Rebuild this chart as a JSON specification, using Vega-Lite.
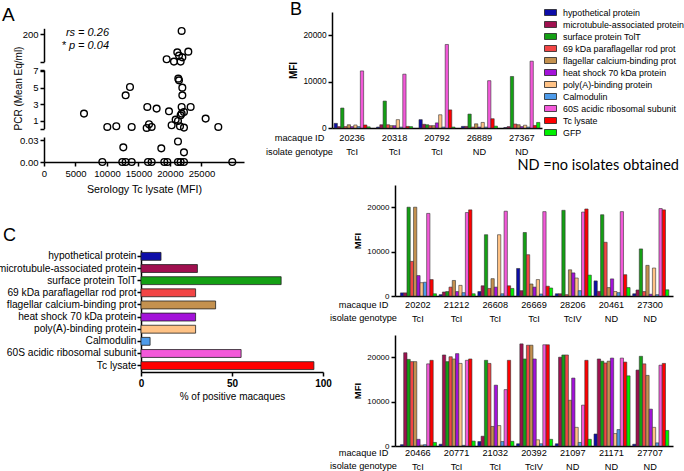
{
"$schema": "https://vega.github.io/schema/vega-lite/v6.json",
"padding": {"left": -3, "top": 1, "right": 0, "bottom": 0},
"config": {
  "font": "Liberation Sans",
  "view": {"stroke": null},
  "axis": {"domainColor": "#000", "tickColor": "#000", "labelColor": "#000", "titleColor": "#000", "domainWidth": 1.5, "tickWidth": 1.5, "grid": false, "tickSize": 4, "labelOverlap": false, "labelFlush": false},
  "title": {"color": "#000", "fontWeight": "normal", "baseline": "alphabetic"}
},
"resolve": {"scale": {"color": "independent"}, "legend": {"color": "independent"}},
"datasets": {
  "scatter": [
    {"mfi": 21850, "pcr": 223}, {"mfi": 21160, "pcr": 77}, {"mfi": 22910, "pcr": 82}, {"mfi": 21430, "pcr": 55},
    {"mfi": 21960, "pcr": 43}, {"mfi": 19470, "pcr": 30}, {"mfi": 20630, "pcr": 14}, {"mfi": 21690, "pcr": 14},
    {"mfi": 6350, "pcr": 1.88}, {"mfi": 10050, "pcr": 0.28}, {"mfi": 11480, "pcr": 0.36}, {"mfi": 12960, "pcr": 4.08},
    {"mfi": 13650, "pcr": 5.08}, {"mfi": 13920, "pcr": 0.28}, {"mfi": 16400, "pcr": 2.68}, {"mfi": 17880, "pcr": 2.48},
    {"mfi": 16670, "pcr": 0.6}, {"mfi": 16300, "pcr": 0.16}, {"mfi": 17090, "pcr": 0.28}, {"mfi": 19840, "pcr": 2.16},
    {"mfi": 20260, "pcr": 0.48}, {"mfi": 20900, "pcr": 1.16}, {"mfi": 21270, "pcr": 1.0}, {"mfi": 21320, "pcr": 6.08},
    {"mfi": 21430, "pcr": 5.88}, {"mfi": 21960, "pcr": 5.0}, {"mfi": 21960, "pcr": 4.08}, {"mfi": 21850, "pcr": 2.68},
    {"mfi": 23280, "pcr": 2.68}, {"mfi": 21690, "pcr": 1.68}, {"mfi": 21850, "pcr": 1.88}, {"mfi": 22220, "pcr": 2.08},
    {"mfi": 21590, "pcr": 0.36}, {"mfi": 22220, "pcr": 0.2}, {"mfi": 25660, "pcr": 1.28}, {"mfi": 27670, "pcr": 0.28},
    {"mfi": 12590, "pcr": 0.02}, {"mfi": 18620, "pcr": 0.0186}, {"mfi": 21270, "pcr": 0.028}, {"mfi": 22220, "pcr": 0.0132},
    {"mfi": 9260, "pcr": 0}, {"mfi": 12430, "pcr": 0}, {"mfi": 12960, "pcr": 0}, {"mfi": 13920, "pcr": 0},
    {"mfi": 16510, "pcr": 0}, {"mfi": 17090, "pcr": 0}, {"mfi": 19100, "pcr": 0}, {"mfi": 19580, "pcr": 0},
    {"mfi": 21270, "pcr": 0}, {"mfi": 21690, "pcr": 0}, {"mfi": 22220, "pcr": 0}, {"mfi": 29890, "pcr": 0}
  ],
  "pct": [
    {"antigen": "hypothetical protein", "pct": 11},
    {"antigen": "microtubule-associated protein", "pct": 31},
    {"antigen": "surface protein TolT", "pct": 77},
    {"antigen": "69 kDa paraflagellar rod prot", "pct": 30},
    {"antigen": "flagellar calcium-binding prot", "pct": 41},
    {"antigen": "heat shock 70 kDa protein", "pct": 30},
    {"antigen": "poly(A)-binding protein", "pct": 30},
    {"antigen": "Calmodulin", "pct": 5},
    {"antigen": "60S acidic ribosomal subunit", "pct": 55},
    {"antigen": "Tc lysate", "pct": 95}
  ],
  "b1": [
    {"macaque": "20236", "genotype": "TcI", "antigen": "hypothetical protein", "mfi": 1000},
    {"macaque": "20236", "genotype": "TcI", "antigen": "microtubule-associated protein", "mfi": 300},
    {"macaque": "20236", "genotype": "TcI", "antigen": "surface protein TolT", "mfi": 4300},
    {"macaque": "20236", "genotype": "TcI", "antigen": "69 kDa paraflagellar rod prot", "mfi": 300},
    {"macaque": "20236", "genotype": "TcI", "antigen": "flagellar calcium-binding prot", "mfi": 700},
    {"macaque": "20236", "genotype": "TcI", "antigen": "heat shock 70 kDa protein", "mfi": 300},
    {"macaque": "20236", "genotype": "TcI", "antigen": "poly(A)-binding protein", "mfi": 650},
    {"macaque": "20236", "genotype": "TcI", "antigen": "Calmodulin", "mfi": 300},
    {"macaque": "20236", "genotype": "TcI", "antigen": "60S acidic ribosomal subunit", "mfi": 12300},
    {"macaque": "20236", "genotype": "TcI", "antigen": "Tc lysate", "mfi": 650},
    {"macaque": "20236", "genotype": "TcI", "antigen": "GFP", "mfi": 250},
    {"macaque": "20318", "genotype": "TcI", "antigen": "hypothetical protein", "mfi": 200},
    {"macaque": "20318", "genotype": "TcI", "antigen": "microtubule-associated protein", "mfi": 700},
    {"macaque": "20318", "genotype": "TcI", "antigen": "surface protein TolT", "mfi": 5800},
    {"macaque": "20318", "genotype": "TcI", "antigen": "69 kDa paraflagellar rod prot", "mfi": 700},
    {"macaque": "20318", "genotype": "TcI", "antigen": "flagellar calcium-binding prot", "mfi": 500},
    {"macaque": "20318", "genotype": "TcI", "antigen": "heat shock 70 kDa protein", "mfi": 500},
    {"macaque": "20318", "genotype": "TcI", "antigen": "poly(A)-binding protein", "mfi": 1800},
    {"macaque": "20318", "genotype": "TcI", "antigen": "Calmodulin", "mfi": 200},
    {"macaque": "20318", "genotype": "TcI", "antigen": "60S acidic ribosomal subunit", "mfi": 11600},
    {"macaque": "20318", "genotype": "TcI", "antigen": "Tc lysate", "mfi": 350},
    {"macaque": "20318", "genotype": "TcI", "antigen": "GFP", "mfi": 300},
    {"macaque": "20792", "genotype": "TcI", "antigen": "hypothetical protein", "mfi": 1800},
    {"macaque": "20792", "genotype": "TcI", "antigen": "microtubule-associated protein", "mfi": 800},
    {"macaque": "20792", "genotype": "TcI", "antigen": "surface protein TolT", "mfi": 700},
    {"macaque": "20792", "genotype": "TcI", "antigen": "69 kDa paraflagellar rod prot", "mfi": 500},
    {"macaque": "20792", "genotype": "TcI", "antigen": "flagellar calcium-binding prot", "mfi": 500},
    {"macaque": "20792", "genotype": "TcI", "antigen": "heat shock 70 kDa protein", "mfi": 1100},
    {"macaque": "20792", "genotype": "TcI", "antigen": "poly(A)-binding protein", "mfi": 2850},
    {"macaque": "20792", "genotype": "TcI", "antigen": "Calmodulin", "mfi": 200},
    {"macaque": "20792", "genotype": "TcI", "antigen": "60S acidic ribosomal subunit", "mfi": 18000},
    {"macaque": "20792", "genotype": "TcI", "antigen": "Tc lysate", "mfi": 3900},
    {"macaque": "20792", "genotype": "TcI", "antigen": "GFP", "mfi": 200},
    {"macaque": "26889", "genotype": "ND", "antigen": "hypothetical protein", "mfi": 350},
    {"macaque": "26889", "genotype": "ND", "antigen": "microtubule-associated protein", "mfi": 350},
    {"macaque": "26889", "genotype": "ND", "antigen": "surface protein TolT", "mfi": 3000},
    {"macaque": "26889", "genotype": "ND", "antigen": "69 kDa paraflagellar rod prot", "mfi": 200},
    {"macaque": "26889", "genotype": "ND", "antigen": "flagellar calcium-binding prot", "mfi": 900},
    {"macaque": "26889", "genotype": "ND", "antigen": "heat shock 70 kDa protein", "mfi": 200},
    {"macaque": "26889", "genotype": "ND", "antigen": "poly(A)-binding protein", "mfi": 1200},
    {"macaque": "26889", "genotype": "ND", "antigen": "Calmodulin", "mfi": 200},
    {"macaque": "26889", "genotype": "ND", "antigen": "60S acidic ribosomal subunit", "mfi": 10200},
    {"macaque": "26889", "genotype": "ND", "antigen": "Tc lysate", "mfi": 2000},
    {"macaque": "26889", "genotype": "ND", "antigen": "GFP", "mfi": 400},
    {"macaque": "27367", "genotype": "ND", "antigen": "hypothetical protein", "mfi": 100},
    {"macaque": "27367", "genotype": "ND", "antigen": "microtubule-associated protein", "mfi": 300},
    {"macaque": "27367", "genotype": "ND", "antigen": "surface protein TolT", "mfi": 11100},
    {"macaque": "27367", "genotype": "ND", "antigen": "69 kDa paraflagellar rod prot", "mfi": 850},
    {"macaque": "27367", "genotype": "ND", "antigen": "flagellar calcium-binding prot", "mfi": 700},
    {"macaque": "27367", "genotype": "ND", "antigen": "heat shock 70 kDa protein", "mfi": 300},
    {"macaque": "27367", "genotype": "ND", "antigen": "poly(A)-binding protein", "mfi": 600},
    {"macaque": "27367", "genotype": "ND", "antigen": "Calmodulin", "mfi": 200},
    {"macaque": "27367", "genotype": "ND", "antigen": "60S acidic ribosomal subunit", "mfi": 14400},
    {"macaque": "27367", "genotype": "ND", "antigen": "Tc lysate", "mfi": 550},
    {"macaque": "27367", "genotype": "ND", "antigen": "GFP", "mfi": 1200}
  ],
  "b2": [
    {"macaque": "20202", "genotype": "TcI", "antigen": "hypothetical protein", "mfi": 700},
    {"macaque": "20202", "genotype": "TcI", "antigen": "microtubule-associated protein", "mfi": 700},
    {"macaque": "20202", "genotype": "TcI", "antigen": "surface protein TolT", "mfi": 20000},
    {"macaque": "20202", "genotype": "TcI", "antigen": "69 kDa paraflagellar rod prot", "mfi": 7800},
    {"macaque": "20202", "genotype": "TcI", "antigen": "flagellar calcium-binding prot", "mfi": 20000},
    {"macaque": "20202", "genotype": "TcI", "antigen": "heat shock 70 kDa protein", "mfi": 4600},
    {"macaque": "20202", "genotype": "TcI", "antigen": "poly(A)-binding protein", "mfi": 3000},
    {"macaque": "20202", "genotype": "TcI", "antigen": "Calmodulin", "mfi": 3100},
    {"macaque": "20202", "genotype": "TcI", "antigen": "60S acidic ribosomal subunit", "mfi": 18600},
    {"macaque": "20202", "genotype": "TcI", "antigen": "Tc lysate", "mfi": 3700},
    {"macaque": "20202", "genotype": "TcI", "antigen": "GFP", "mfi": 500},
    {"macaque": "21212", "genotype": "TcI", "antigen": "hypothetical protein", "mfi": 300},
    {"macaque": "21212", "genotype": "TcI", "antigen": "microtubule-associated protein", "mfi": 900},
    {"macaque": "21212", "genotype": "TcI", "antigen": "surface protein TolT", "mfi": 1000},
    {"macaque": "21212", "genotype": "TcI", "antigen": "69 kDa paraflagellar rod prot", "mfi": 2000},
    {"macaque": "21212", "genotype": "TcI", "antigen": "flagellar calcium-binding prot", "mfi": 3500},
    {"macaque": "21212", "genotype": "TcI", "antigen": "heat shock 70 kDa protein", "mfi": 1000},
    {"macaque": "21212", "genotype": "TcI", "antigen": "poly(A)-binding protein", "mfi": 2400},
    {"macaque": "21212", "genotype": "TcI", "antigen": "Calmodulin", "mfi": 750},
    {"macaque": "21212", "genotype": "TcI", "antigen": "60S acidic ribosomal subunit", "mfi": 18800},
    {"macaque": "21212", "genotype": "TcI", "antigen": "Tc lysate", "mfi": 19400},
    {"macaque": "21212", "genotype": "TcI", "antigen": "GFP", "mfi": 500},
    {"macaque": "26608", "genotype": "TcI", "antigen": "hypothetical protein", "mfi": 1000},
    {"macaque": "26608", "genotype": "TcI", "antigen": "microtubule-associated protein", "mfi": 2300},
    {"macaque": "26608", "genotype": "TcI", "antigen": "surface protein TolT", "mfi": 13800},
    {"macaque": "26608", "genotype": "TcI", "antigen": "69 kDa paraflagellar rod prot", "mfi": 1700},
    {"macaque": "26608", "genotype": "TcI", "antigen": "flagellar calcium-binding prot", "mfi": 3900},
    {"macaque": "26608", "genotype": "TcI", "antigen": "heat shock 70 kDa protein", "mfi": 2000},
    {"macaque": "26608", "genotype": "TcI", "antigen": "poly(A)-binding protein", "mfi": 13800},
    {"macaque": "26608", "genotype": "TcI", "antigen": "Calmodulin", "mfi": 500},
    {"macaque": "26608", "genotype": "TcI", "antigen": "60S acidic ribosomal subunit", "mfi": 19100},
    {"macaque": "26608", "genotype": "TcI", "antigen": "Tc lysate", "mfi": 2300},
    {"macaque": "26608", "genotype": "TcI", "antigen": "GFP", "mfi": 1700},
    {"macaque": "26669", "genotype": "TcI", "antigen": "hypothetical protein", "mfi": 6200},
    {"macaque": "26669", "genotype": "TcI", "antigen": "microtubule-associated protein", "mfi": 1200},
    {"macaque": "26669", "genotype": "TcI", "antigen": "surface protein TolT", "mfi": 14300},
    {"macaque": "26669", "genotype": "TcI", "antigen": "69 kDa paraflagellar rod prot", "mfi": 9300},
    {"macaque": "26669", "genotype": "TcI", "antigen": "flagellar calcium-binding prot", "mfi": 2700},
    {"macaque": "26669", "genotype": "TcI", "antigen": "heat shock 70 kDa protein", "mfi": 2000},
    {"macaque": "26669", "genotype": "TcI", "antigen": "poly(A)-binding protein", "mfi": 3700},
    {"macaque": "26669", "genotype": "TcI", "antigen": "Calmodulin", "mfi": 450},
    {"macaque": "26669", "genotype": "TcI", "antigen": "60S acidic ribosomal subunit", "mfi": 19000},
    {"macaque": "26669", "genotype": "TcI", "antigen": "Tc lysate", "mfi": 2200},
    {"macaque": "26669", "genotype": "TcI", "antigen": "GFP", "mfi": 1800},
    {"macaque": "28206", "genotype": "TcIV", "antigen": "hypothetical protein", "mfi": 500},
    {"macaque": "28206", "genotype": "TcIV", "antigen": "microtubule-associated protein", "mfi": 500},
    {"macaque": "28206", "genotype": "TcIV", "antigen": "surface protein TolT", "mfi": 19300},
    {"macaque": "28206", "genotype": "TcIV", "antigen": "69 kDa paraflagellar rod prot", "mfi": 300},
    {"macaque": "28206", "genotype": "TcIV", "antigen": "flagellar calcium-binding prot", "mfi": 5900},
    {"macaque": "28206", "genotype": "TcIV", "antigen": "heat shock 70 kDa protein", "mfi": 5200},
    {"macaque": "28206", "genotype": "TcIV", "antigen": "poly(A)-binding protein", "mfi": 4050},
    {"macaque": "28206", "genotype": "TcIV", "antigen": "Calmodulin", "mfi": 1200},
    {"macaque": "28206", "genotype": "TcIV", "antigen": "60S acidic ribosomal subunit", "mfi": 18900},
    {"macaque": "28206", "genotype": "TcIV", "antigen": "Tc lysate", "mfi": 19600},
    {"macaque": "28206", "genotype": "TcIV", "antigen": "GFP", "mfi": 4700},
    {"macaque": "20461", "genotype": "ND", "antigen": "hypothetical protein", "mfi": 3400},
    {"macaque": "20461", "genotype": "ND", "antigen": "microtubule-associated protein", "mfi": 1050},
    {"macaque": "20461", "genotype": "ND", "antigen": "surface protein TolT", "mfi": 18300},
    {"macaque": "20461", "genotype": "ND", "antigen": "69 kDa paraflagellar rod prot", "mfi": 12100},
    {"macaque": "20461", "genotype": "ND", "antigen": "flagellar calcium-binding prot", "mfi": 1900},
    {"macaque": "20461", "genotype": "ND", "antigen": "heat shock 70 kDa protein", "mfi": 3850},
    {"macaque": "20461", "genotype": "ND", "antigen": "poly(A)-binding protein", "mfi": 1000},
    {"macaque": "20461", "genotype": "ND", "antigen": "Calmodulin", "mfi": 750},
    {"macaque": "20461", "genotype": "ND", "antigen": "60S acidic ribosomal subunit", "mfi": 19000},
    {"macaque": "20461", "genotype": "ND", "antigen": "Tc lysate", "mfi": 4800},
    {"macaque": "20461", "genotype": "ND", "antigen": "GFP", "mfi": 1900},
    {"macaque": "27300", "genotype": "ND", "antigen": "hypothetical protein", "mfi": 500},
    {"macaque": "27300", "genotype": "ND", "antigen": "microtubule-associated protein", "mfi": 1350},
    {"macaque": "27300", "genotype": "ND", "antigen": "surface protein TolT", "mfi": 10600},
    {"macaque": "27300", "genotype": "ND", "antigen": "69 kDa paraflagellar rod prot", "mfi": 1000},
    {"macaque": "27300", "genotype": "ND", "antigen": "flagellar calcium-binding prot", "mfi": 6900},
    {"macaque": "27300", "genotype": "ND", "antigen": "heat shock 70 kDa protein", "mfi": 400},
    {"macaque": "27300", "genotype": "ND", "antigen": "poly(A)-binding protein", "mfi": 6300},
    {"macaque": "27300", "genotype": "ND", "antigen": "Calmodulin", "mfi": 300},
    {"macaque": "27300", "genotype": "ND", "antigen": "60S acidic ribosomal subunit", "mfi": 19700},
    {"macaque": "27300", "genotype": "ND", "antigen": "Tc lysate", "mfi": 19400},
    {"macaque": "27300", "genotype": "ND", "antigen": "GFP", "mfi": 1400}
  ],
  "b3": [
    {"macaque": "20466", "genotype": "TcI", "antigen": "hypothetical protein", "mfi": 300},
    {"macaque": "20466", "genotype": "TcI", "antigen": "microtubule-associated protein", "mfi": 21000},
    {"macaque": "20466", "genotype": "TcI", "antigen": "surface protein TolT", "mfi": 19500},
    {"macaque": "20466", "genotype": "TcI", "antigen": "69 kDa paraflagellar rod prot", "mfi": 19000},
    {"macaque": "20466", "genotype": "TcI", "antigen": "flagellar calcium-binding prot", "mfi": 19000},
    {"macaque": "20466", "genotype": "TcI", "antigen": "heat shock 70 kDa protein", "mfi": 1500},
    {"macaque": "20466", "genotype": "TcI", "antigen": "poly(A)-binding protein", "mfi": 200},
    {"macaque": "20466", "genotype": "TcI", "antigen": "Calmodulin", "mfi": 300},
    {"macaque": "20466", "genotype": "TcI", "antigen": "60S acidic ribosomal subunit", "mfi": 18500},
    {"macaque": "20466", "genotype": "TcI", "antigen": "Tc lysate", "mfi": 19300},
    {"macaque": "20466", "genotype": "TcI", "antigen": "GFP", "mfi": 800},
    {"macaque": "20771", "genotype": "TcI", "antigen": "hypothetical protein", "mfi": 400},
    {"macaque": "20771", "genotype": "TcI", "antigen": "microtubule-associated protein", "mfi": 20500},
    {"macaque": "20771", "genotype": "TcI", "antigen": "surface protein TolT", "mfi": 19000},
    {"macaque": "20771", "genotype": "TcI", "antigen": "69 kDa paraflagellar rod prot", "mfi": 20100},
    {"macaque": "20771", "genotype": "TcI", "antigen": "flagellar calcium-binding prot", "mfi": 19600},
    {"macaque": "20771", "genotype": "TcI", "antigen": "heat shock 70 kDa protein", "mfi": 20800},
    {"macaque": "20771", "genotype": "TcI", "antigen": "poly(A)-binding protein", "mfi": 18600},
    {"macaque": "20771", "genotype": "TcI", "antigen": "Calmodulin", "mfi": 150},
    {"macaque": "20771", "genotype": "TcI", "antigen": "60S acidic ribosomal subunit", "mfi": 19300},
    {"macaque": "20771", "genotype": "TcI", "antigen": "Tc lysate", "mfi": 19600},
    {"macaque": "20771", "genotype": "TcI", "antigen": "GFP", "mfi": 1100},
    {"macaque": "21032", "genotype": "TcI", "antigen": "hypothetical protein", "mfi": 1000},
    {"macaque": "21032", "genotype": "TcI", "antigen": "microtubule-associated protein", "mfi": 2200},
    {"macaque": "21032", "genotype": "TcI", "antigen": "surface protein TolT", "mfi": 19300},
    {"macaque": "21032", "genotype": "TcI", "antigen": "69 kDa paraflagellar rod prot", "mfi": 18600},
    {"macaque": "21032", "genotype": "TcI", "antigen": "flagellar calcium-binding prot", "mfi": 4400},
    {"macaque": "21032", "genotype": "TcI", "antigen": "heat shock 70 kDa protein", "mfi": 13700},
    {"macaque": "21032", "genotype": "TcI", "antigen": "poly(A)-binding protein", "mfi": 4600},
    {"macaque": "21032", "genotype": "TcI", "antigen": "Calmodulin", "mfi": 1000},
    {"macaque": "21032", "genotype": "TcI", "antigen": "60S acidic ribosomal subunit", "mfi": 12700},
    {"macaque": "21032", "genotype": "TcI", "antigen": "Tc lysate", "mfi": 19300},
    {"macaque": "21032", "genotype": "TcI", "antigen": "GFP", "mfi": 1050},
    {"macaque": "20392", "genotype": "TcIV", "antigen": "hypothetical protein", "mfi": 500},
    {"macaque": "20392", "genotype": "TcIV", "antigen": "microtubule-associated protein", "mfi": 23000},
    {"macaque": "20392", "genotype": "TcIV", "antigen": "surface protein TolT", "mfi": 19600},
    {"macaque": "20392", "genotype": "TcIV", "antigen": "69 kDa paraflagellar rod prot", "mfi": 22700},
    {"macaque": "20392", "genotype": "TcIV", "antigen": "flagellar calcium-binding prot", "mfi": 22700},
    {"macaque": "20392", "genotype": "TcIV", "antigen": "heat shock 70 kDa protein", "mfi": 19600},
    {"macaque": "20392", "genotype": "TcIV", "antigen": "poly(A)-binding protein", "mfi": 1400},
    {"macaque": "20392", "genotype": "TcIV", "antigen": "Calmodulin", "mfi": 500},
    {"macaque": "20392", "genotype": "TcIV", "antigen": "60S acidic ribosomal subunit", "mfi": 22800},
    {"macaque": "20392", "genotype": "TcIV", "antigen": "Tc lysate", "mfi": 22800},
    {"macaque": "20392", "genotype": "TcIV", "antigen": "GFP", "mfi": 1500},
    {"macaque": "21097", "genotype": "ND", "antigen": "hypothetical protein", "mfi": 500},
    {"macaque": "21097", "genotype": "ND", "antigen": "microtubule-associated protein", "mfi": 20000},
    {"macaque": "21097", "genotype": "ND", "antigen": "surface protein TolT", "mfi": 20500},
    {"macaque": "21097", "genotype": "ND", "antigen": "69 kDa paraflagellar rod prot", "mfi": 20500},
    {"macaque": "21097", "genotype": "ND", "antigen": "flagellar calcium-binding prot", "mfi": 10300},
    {"macaque": "21097", "genotype": "ND", "antigen": "heat shock 70 kDa protein", "mfi": 15300},
    {"macaque": "21097", "genotype": "ND", "antigen": "poly(A)-binding protein", "mfi": 4200},
    {"macaque": "21097", "genotype": "ND", "antigen": "Calmodulin", "mfi": 800},
    {"macaque": "21097", "genotype": "ND", "antigen": "60S acidic ribosomal subunit", "mfi": 9200},
    {"macaque": "21097", "genotype": "ND", "antigen": "Tc lysate", "mfi": 19300},
    {"macaque": "21097", "genotype": "ND", "antigen": "GFP", "mfi": 1500},
    {"macaque": "21171", "genotype": "ND", "antigen": "hypothetical protein", "mfi": 2700},
    {"macaque": "21171", "genotype": "ND", "antigen": "microtubule-associated protein", "mfi": 19600},
    {"macaque": "21171", "genotype": "ND", "antigen": "surface protein TolT", "mfi": 19100},
    {"macaque": "21171", "genotype": "ND", "antigen": "69 kDa paraflagellar rod prot", "mfi": 18700},
    {"macaque": "21171", "genotype": "ND", "antigen": "flagellar calcium-binding prot", "mfi": 19100},
    {"macaque": "21171", "genotype": "ND", "antigen": "heat shock 70 kDa protein", "mfi": 19800},
    {"macaque": "21171", "genotype": "ND", "antigen": "poly(A)-binding protein", "mfi": 2800},
    {"macaque": "21171", "genotype": "ND", "antigen": "Calmodulin", "mfi": 3700},
    {"macaque": "21171", "genotype": "ND", "antigen": "60S acidic ribosomal subunit", "mfi": 19800},
    {"macaque": "21171", "genotype": "ND", "antigen": "Tc lysate", "mfi": 18900},
    {"macaque": "21171", "genotype": "ND", "antigen": "GFP", "mfi": 15800},
    {"macaque": "27707", "genotype": "ND", "antigen": "hypothetical protein", "mfi": 400},
    {"macaque": "27707", "genotype": "ND", "antigen": "microtubule-associated protein", "mfi": 17100},
    {"macaque": "27707", "genotype": "ND", "antigen": "surface protein TolT", "mfi": 20200},
    {"macaque": "27707", "genotype": "ND", "antigen": "69 kDa paraflagellar rod prot", "mfi": 18500},
    {"macaque": "27707", "genotype": "ND", "antigen": "flagellar calcium-binding prot", "mfi": 15900},
    {"macaque": "27707", "genotype": "ND", "antigen": "heat shock 70 kDa protein", "mfi": 8300},
    {"macaque": "27707", "genotype": "ND", "antigen": "poly(A)-binding protein", "mfi": 4200},
    {"macaque": "27707", "genotype": "ND", "antigen": "Calmodulin", "mfi": 700},
    {"macaque": "27707", "genotype": "ND", "antigen": "60S acidic ribosomal subunit", "mfi": 18200},
    {"macaque": "27707", "genotype": "ND", "antigen": "Tc lysate", "mfi": 18600},
    {"macaque": "27707", "genotype": "ND", "antigen": "GFP", "mfi": 3500}
  ]
},
"spacing": -85,
"hconcat": [
  {
    "vconcat": [
      {
        "vconcat": [
          {
            "width": 200, "height": 49.7,
            "title": {"text": "A", "anchor": "start", "frame": "group", "fontSize": 19, "dx": -42, "offset": -13},
            "layer": [
              {
                "data": {"name": "scatter"},
                "transform": [{"filter": "datum.pcr >= 10"}],
                "mark": {"type": "point", "shape": "circle", "filled": false, "stroke": "#000", "strokeWidth": 1.4, "size": 45, "opacity": 1},
                "encoding": {
                  "x": {"field": "mfi", "type": "quantitative", "scale": {"domain": [0, 31750], "nice": false, "zero": false}, "axis": null},
                  "y": {"field": "pcr", "type": "quantitative", "scale": {"domain": [13.4, 241], "range": [49.7, 16.3], "nice": false, "zero": false},
                        "axis": {"values": [13.4, 100, 200], "labelExpr": "datum.value >= 100 ? datum.label : ''", "title": null, "labelFontSize": 9.5, "labelPadding": 2}}
                }
              },
              {
                "data": {"values": [{}]},
                "mark": {"type": "text", "fontStyle": "italic", "fontSize": 11, "align": "right", "baseline": "middle", "lineHeight": 13},
                "encoding": {
                  "x": {"datum": 10320, "type": "quantitative"},
                  "y": {"datum": 205.6, "type": "quantitative"},
                  "text": {"value": ["rs = 0.26", "* p = 0.04"]}
                }
              }
            ]
          },
          {
            "width": 200, "height": 58.6,
            "data": {"name": "scatter"},
            "transform": [{"filter": "datum.pcr >= 0.05 && datum.pcr < 10"}],
            "mark": {"type": "point", "shape": "circle", "filled": false, "stroke": "#000", "strokeWidth": 1.4, "size": 45, "opacity": 1},
            "encoding": {
              "x": {"field": "mfi", "type": "quantitative", "scale": {"domain": [0, 31750], "nice": false, "zero": false}, "axis": null},
              "y": {"field": "pcr", "type": "quantitative", "scale": {"domain": [0.08, 7.12], "nice": false, "zero": false},
                    "axis": {"values": [0.08, 1, 3, 5, 7, 7.12], "labelExpr": "datum.value == 1 || datum.value == 3 || datum.value == 5 || datum.value == 7 ? datum.label : ''",
                             "title": "PCR (Mean Eq/ml)", "titleFontSize": 10, "titleFontWeight": "normal", "titleX": -26, "titleY": 18, "titleAngle": 270, "titleAlign": "center", "titleBaseline": "middle",
                             "labelFontSize": 9.5, "labelPadding": 2}}
            }
          },
          {
            "width": 200, "height": 25,
            "data": {"name": "scatter"},
            "transform": [{"filter": "datum.pcr < 0.05"}],
            "mark": {"type": "point", "shape": "circle", "filled": false, "stroke": "#000", "strokeWidth": 1.4, "size": 45, "opacity": 1},
            "encoding": {
              "x": {"field": "mfi", "type": "quantitative", "scale": {"domain": [0, 31750], "nice": false, "zero": false},
                    "axis": {"values": [0, 5000, 10000, 15000, 20000, 25000], "format": "d", "labelFontSize": 9.5, "labelPadding": 2, "title": "Serology Tc lysate (MFI)", "titleFontSize": 10.7, "titleFontWeight": "normal", "titlePadding": 7}},
              "y": {"field": "pcr", "type": "quantitative", "scale": {"domain": [0, 0.0341], "nice": false},
                    "axis": {"values": [0, 0.03], "format": ".2f", "title": null, "labelFontSize": 9.5, "labelPadding": 2}}
            }
          }
        ],
        "spacing": 8,
        "bounds": "flush"
      },
      {
        "width": 279, "height": 122,
        "title": {"text": "C", "anchor": "start", "frame": "group", "fontSize": 18, "dx": -41, "offset": 5},
        "data": {"name": "pct"},
        "mark": {"type": "bar", "stroke": "#222", "strokeWidth": 0.8},
        "encoding": {
          "y": {"field": "antigen", "type": "nominal", "sort": null, "scale": {"paddingInner": 0.35, "paddingOuter": 0.2},
                "axis": {"title": null, "labelFontSize": 10.2, "labelPadding": 1, "labelLimit": 300, "offset": -97}},
          "x": {"field": "pct", "type": "quantitative", "scale": {"domain": [0, 100], "range": [97, 279], "nice": false},
                "axis": {"values": [0, 50, 100], "labelFontWeight": "bold", "labelFontSize": 10, "labelPadding": 2, "title": "% of positive macaques", "titleFontSize": 10, "titleFontWeight": "normal", "titlePadding": 3}},
          "color": {"field": "antigen", "type": "nominal", "sort": null,
                    "scale": {"domain": ["hypothetical protein", "microtubule-associated protein", "surface protein TolT", "69 kDa paraflagellar rod prot", "flagellar calcium-binding prot", "heat shock 70 kDa protein", "poly(A)-binding protein", "Calmodulin", "60S acidic ribosomal subunit", "Tc lysate", "GFP"],
                              "range": ["#0D0DA8", "#A0104F", "#14A014", "#F24545", "#C4914F", "#A312D9", "#FFC285", "#4D9BEA", "#F359D9", "#FF0000", "#00F000"]},
                    "legend": null}
        }
      }
    ],
    "spacing": 32,
    "resolve": {"scale": {"color": "independent"}, "legend": {"color": "independent"}}
  },
  {
    "vconcat": [
      {
        "width": 210, "height": 116,
        "title": {"text": "B", "anchor": "start", "frame": "group", "fontSize": 18, "dx": -42, "offset": -13},
        "data": {"name": "b1"},
        "layer": [
          {
            "mark": {"type": "bar", "stroke": "#333", "strokeWidth": 0.6},
            "encoding": {
              "x": {"field": "macaque", "type": "nominal", "sort": null, "scale": {"paddingInner": 0.15, "paddingOuter": 0.05},
                    "axis": {"title": ["macaque ID", "isolate genotype"], "titleX": -33, "titleY": 5, "titleAlign": "center", "titleBaseline": "top", "titleAngle": 0,
                             "titleFontSize": 9.2, "titleFontWeight": "normal", "titleLineHeight": 14, "labelFontSize": 9.2, "labelAngle": 0, "ticks": false, "tickSize": 0, "labelPadding": 5}},
              "xOffset": {"field": "antigen", "type": "nominal", "sort": null, "scale": {"paddingInner": 0, "paddingOuter": 0}},
              "y": {"field": "mfi", "type": "quantitative", "scale": {"domain": [0, 25000], "nice": false},
                    "axis": {"values": [0, 5000, 10000, 15000, 20000, 25000], "format": "d", "title": "MFI", "titleFontSize": 10, "titleFontWeight": "bold", "labelFontSize": 8.3, "labelPadding": 2, "titlePadding": 4}},
              "color": {"field": "antigen", "type": "nominal", "sort": null,
                        "scale": {"domain": ["hypothetical protein", "microtubule-associated protein", "surface protein TolT", "69 kDa paraflagellar rod prot", "flagellar calcium-binding prot", "heat shock 70 kDa protein", "poly(A)-binding protein", "Calmodulin", "60S acidic ribosomal subunit", "Tc lysate", "GFP"],
                                  "range": ["#0D0DA8", "#A0104F", "#14A014", "#F24545", "#C4914F", "#A312D9", "#FFC285", "#4D9BEA", "#F359D9", "#FF0000", "#00F000"]},
                        "legend": {"orient": "none", "legendX": 212, "legendY": -6, "title": null, "labelFontSize": 8.9, "labelColor": "#000",
                                   "symbolType": "M-1,-0.5H1V0.5H-1Z", "symbolSize": 144, "symbolStrokeColor": "#222", "symbolStrokeWidth": 0.8,
                                   "labelOffset": 6, "rowPadding": 0, "padding": 0, "labelLimit": 200}}
            }
          },
          {
            "transform": [{"aggregate": [{"op": "count", "as": "n"}], "groupby": ["macaque", "genotype"]}],
            "mark": {"type": "text", "dy": 24, "fontSize": 9.2, "baseline": "middle"},
            "encoding": {
              "x": {"field": "macaque", "type": "nominal", "sort": null},
              "y": {"datum": 0, "type": "quantitative"},
              "text": {"field": "genotype"}
            }
          }
        ]
      },
      {
        "vconcat": [
          {
            "width": 341, "height": 111,
            "title": {"text": "ND =no isolates obtained", "anchor": "end", "frame": "group", "font": "Lato", "fontSize": 14.5, "dx": 6, "offset": 12},
            "data": {"name": "b2"},
            "layer": [
              {
                "mark": {"type": "bar", "stroke": "#333", "strokeWidth": 0.6},
                "encoding": {
                  "x": {"field": "macaque", "type": "nominal", "sort": null, "scale": {"range": [63, 341], "paddingInner": 0.1, "paddingOuter": 0.14},
                        "axis": {"title": ["macaque ID", "isolate genotype"], "titleX": 31, "titleY": 4.4, "titleAlign": "center", "titleBaseline": "top", "titleAngle": 0,
                                 "titleFontSize": 9.2, "titleFontWeight": "normal", "titleLineHeight": 13, "labelFontSize": 9.2, "labelAngle": 0, "ticks": false, "tickSize": 0, "labelPadding": 4.4}},
                  "xOffset": {"field": "antigen", "type": "nominal", "sort": null, "scale": {"paddingInner": 0, "paddingOuter": 0}},
                  "y": {"field": "mfi", "type": "quantitative", "scale": {"domain": [0, 25000], "nice": false},
                        "axis": {"values": [0, 5000, 10000, 15000, 20000, 25000], "format": "d", "title": "MFI", "titleFontSize": 9.5, "titleFontWeight": "bold", "labelFontSize": 8, "labelPadding": 2, "titlePadding": 4, "offset": -63}},
                  "color": {"field": "antigen", "type": "nominal", "sort": null,
                            "scale": {"domain": ["hypothetical protein", "microtubule-associated protein", "surface protein TolT", "69 kDa paraflagellar rod prot", "flagellar calcium-binding prot", "heat shock 70 kDa protein", "poly(A)-binding protein", "Calmodulin", "60S acidic ribosomal subunit", "Tc lysate", "GFP"],
                                      "range": ["#0D0DA8", "#A0104F", "#14A014", "#F24545", "#C4914F", "#A312D9", "#FFC285", "#4D9BEA", "#F359D9", "#FF0000", "#00F000"]},
                            "legend": null}
                }
              },
              {
                "transform": [{"aggregate": [{"op": "count", "as": "n"}], "groupby": ["macaque", "genotype"]}],
                "mark": {"type": "text", "dy": 23, "fontSize": 9.2, "baseline": "middle"},
                "encoding": {
                  "x": {"field": "macaque", "type": "nominal", "sort": null},
                  "y": {"datum": 0, "type": "quantitative"},
                  "text": {"field": "genotype"}
                }
              }
            ]
          },
          {
            "width": 341, "height": 111,
            "data": {"name": "b3"},
            "layer": [
              {
                "mark": {"type": "bar", "stroke": "#333", "strokeWidth": 0.6},
                "encoding": {
                  "x": {"field": "macaque", "type": "nominal", "sort": null, "scale": {"range": [63, 341], "paddingInner": 0.1, "paddingOuter": 0.14},
                        "axis": {"title": ["macaque ID", "isolate genotype"], "titleX": 31, "titleY": 2.4, "titleAlign": "center", "titleBaseline": "top", "titleAngle": 0,
                                 "titleFontSize": 9.2, "titleFontWeight": "normal", "titleLineHeight": 13, "labelFontSize": 9.2, "labelAngle": 0, "ticks": false, "tickSize": 0, "labelPadding": 2.4}},
                  "xOffset": {"field": "antigen", "type": "nominal", "sort": null, "scale": {"paddingInner": 0, "paddingOuter": 0}},
                  "y": {"field": "mfi", "type": "quantitative", "scale": {"domain": [0, 25000], "nice": false},
                        "axis": {"values": [0, 5000, 10000, 15000, 20000, 25000], "format": "d", "title": "MFI", "titleFontSize": 9.5, "titleFontWeight": "bold", "labelFontSize": 8, "labelPadding": 2, "titlePadding": 4, "offset": -63}},
                  "color": {"field": "antigen", "type": "nominal", "sort": null,
                            "scale": {"domain": ["hypothetical protein", "microtubule-associated protein", "surface protein TolT", "69 kDa paraflagellar rod prot", "flagellar calcium-binding prot", "heat shock 70 kDa protein", "poly(A)-binding protein", "Calmodulin", "60S acidic ribosomal subunit", "Tc lysate", "GFP"],
                                      "range": ["#0D0DA8", "#A0104F", "#14A014", "#F24545", "#C4914F", "#A312D9", "#FFC285", "#4D9BEA", "#F359D9", "#FF0000", "#00F000"]},
                            "legend": null}
                }
              },
              {
                "transform": [{"aggregate": [{"op": "count", "as": "n"}], "groupby": ["macaque", "genotype"]}],
                "mark": {"type": "text", "dy": 21, "fontSize": 9.2, "baseline": "middle"},
                "encoding": {
                  "x": {"field": "macaque", "type": "nominal", "sort": null},
                  "y": {"datum": 0, "type": "quantitative"},
                  "text": {"field": "genotype"}
                }
              }
            ]
          }
        ],
        "spacing": 10,
        "resolve": {"scale": {"color": "independent"}, "legend": {"color": "independent"}}
      }
    ],
    "spacing": -1,
    "resolve": {"scale": {"color": "independent"}, "legend": {"color": "independent"}}
  }
]
}
